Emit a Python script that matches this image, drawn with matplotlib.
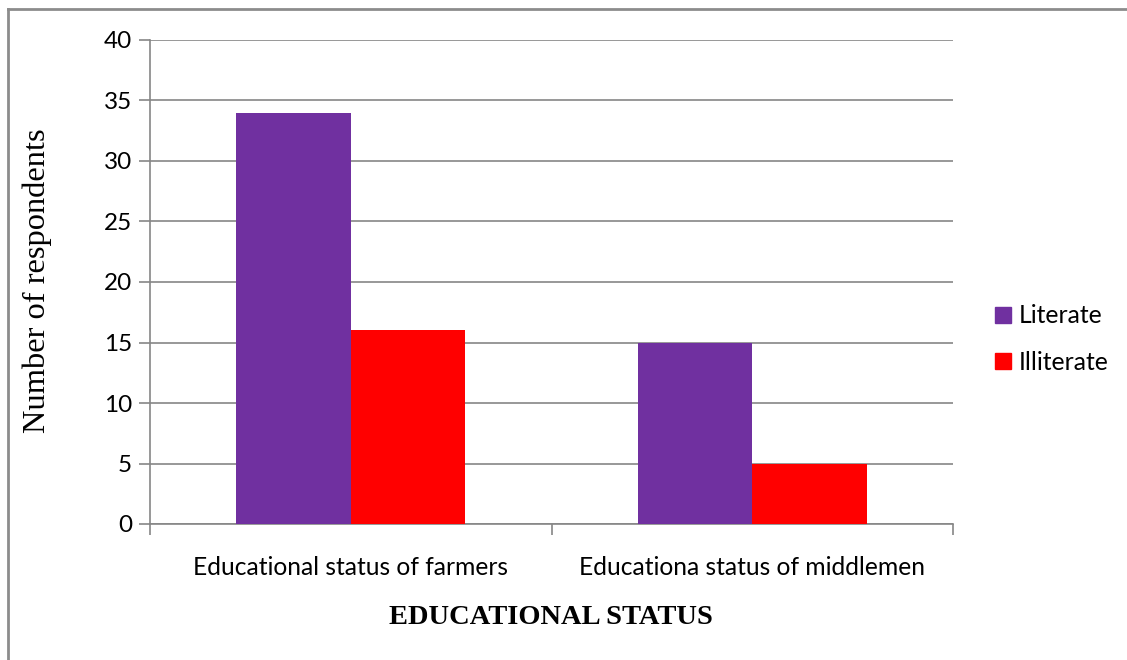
import matplotlib
matplotlib.use("Agg")
import matplotlib.pyplot as plt
import numpy as np
from matplotlib.lines import Line2D

categories = ["Educational status of farmers", "Educationa status of middlemen"]
literate = [34, 15]
illiterate = [16, 5]
series_names = ["Literate", "Illiterate"]
colors = ["#7030A0", "#FF0000"]
y_ticks = [0, 5, 10, 15, 20, 25, 30, 35, 40]

W, H = 1127, 660
fig = plt.figure(figsize=(W / 100, H / 100), dpi=100)
ax = fig.add_axes([150 / W, 1 - 524 / H, (953 - 150) / W, (524 - 40) / H])

grid_c = "#868686"
sans = "Lato"
serif = "Liberation Serif"

x = np.arange(len(categories))
bw = 1 / 3.5  # gap between groups is 1.5 bar widths
ax.bar(x - bw / 2, literate, bw, color=colors[0], zorder=3)
ax.bar(x + bw / 2, illiterate, bw, color=colors[1], zorder=3)

ax.set_xlim(-0.5, len(categories) - 0.5)
ax.set_ylim(0, 40)
ax.set_yticks(y_ticks)
ax.set_yticklabels([str(v) for v in y_ticks], fontfamily=sans, fontsize=17.5)
ax.yaxis.grid(True, color=grid_c, linewidth=1.2, zorder=0)
ax.set_axisbelow(True)

ax.set_xticks(np.arange(len(categories) + 1) - 0.5)
ax.set_xticklabels([])
ax.tick_params(axis="x", length=8, color=grid_c, width=1.2, direction="out")
ax.tick_params(axis="y", length=8, color=grid_c, width=1.2, direction="out", pad=5)
for i, c in enumerate(categories):
    ax.text(i, -3.6, c, ha="center", va="center", fontfamily=sans, fontsize=17.7)

for s in ["top", "right"]:
    ax.spines[s].set_visible(False)
for s in ["left", "bottom"]:
    ax.spines[s].set_color(grid_c)
    ax.spines[s].set_linewidth(1.2)

fig.text(37 / W, 1 - 281 / H, "Number of respondents", rotation=90,
         ha="center", va="center", fontfamily=serif, fontsize=23.4)
fig.text(551 / W, 1 - 617 / H, "EDUCATIONAL STATUS", ha="center", va="center",
         fontfamily=serif, fontsize=20.5, fontweight="bold")

handles = [Line2D([], [], marker="s", linestyle="none", markersize=11,
                  markerfacecolor=c, markeredgecolor=c) for c in colors]
leg = fig.legend(handles, series_names, loc="center left",
                 bbox_to_anchor=(968 / W, 1 - 339 / H), frameon=False,
                 prop={"family": sans, "size": 17.8}, handletextpad=0.15,
                 labelspacing=0.95, handlelength=1.0)

# outer frame
fig.add_artist(Line2D([8 / W, 8 / W], [0, 1 - 9 / H], color="#8c8c8c",
                      linewidth=2, transform=fig.transFigure))
fig.add_artist(Line2D([8 / W, 1], [1 - 9 / H, 1 - 9 / H], color="#8c8c8c",
                      linewidth=2, transform=fig.transFigure))

fig.savefig("out.png", dpi=100)
